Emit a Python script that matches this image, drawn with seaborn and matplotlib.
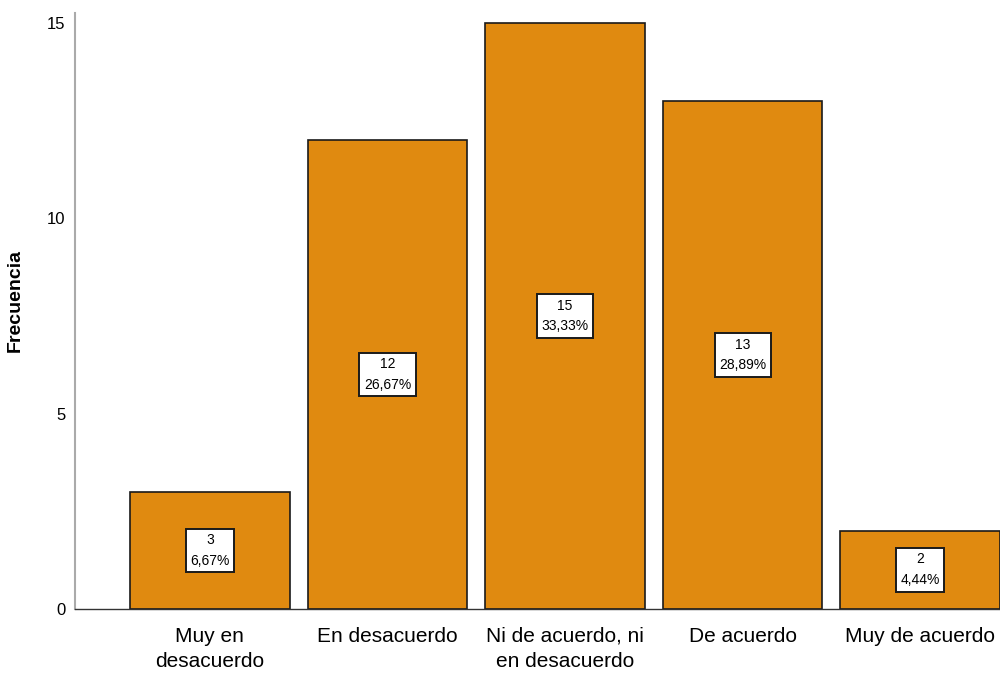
import matplotlib
matplotlib.use("Agg")
import matplotlib.pyplot as plt
import seaborn as sns
import pandas as pd

categorias = ["Muy en\ndesacuerdo", "En desacuerdo", "Ni de acuerdo, ni\nen desacuerdo",
              "De acuerdo", "Muy de acuerdo"]
frecuencias = [3, 12, 15, 13, 2]
porcentajes = ["6,67%", "26,67%", "33,33%", "28,89%", "4,44%"]

sns.set_style("white")
plt.rcParams["font.family"] = ["Liberation Sans", "DejaVu Sans"]
plt.rcParams["text.color"] = "black"
plt.rcParams["xtick.color"] = "black"
plt.rcParams["ytick.color"] = "black"
plt.rcParams["axes.labelcolor"] = "black"

df = pd.DataFrame({"categoria": categorias, "frecuencia": frecuencias})

fig = plt.figure(figsize=(10, 6.75), dpi=100)
ax = fig.add_axes([0.075, 0.098, 0.925, 0.883])

sns.barplot(data=df, x="categoria", y="frecuencia", color="#E08A10", saturation=1,
            width=0.9, edgecolor="#1a1a1a", linewidth=1.2, ax=ax)

# value + percentage boxes at half the bar height
for i, (f, p) in enumerate(zip(frecuencias, porcentajes)):
    ax.text(i, f / 2, f"{f}\n{p}", ha="center", va="center", fontsize=10,
            linespacing=1.6,
            bbox=dict(boxstyle="square,pad=0.32", facecolor="white",
                      edgecolor="#1a1a1a", linewidth=1.4))

ax.set_xlim(-0.76, 4.45)
ax.set_ylim(0, 15.26)
ax.set_yticks([0, 5, 10, 15])
ax.set_xlabel("")
ax.set_ylabel("Frecuencia", fontsize=14, fontweight="bold")
ax.yaxis.set_label_coords(-0.055, 0.518)
ax.tick_params(axis="x", length=0, pad=13, labelsize=15)
ax.tick_params(axis="y", length=0, pad=7, labelsize=12)
for lbl in ax.get_xticklabels():
    lbl.set_linespacing(1.4)

for s in ["top", "right"]:
    ax.spines[s].set_visible(False)
ax.spines["left"].set_color("#aaaaaa")
ax.spines["left"].set_linewidth(1.5)
ax.spines["bottom"].set_color("#333333")
ax.spines["bottom"].set_linewidth(1.0)

fig.savefig("out.png", dpi=100)
